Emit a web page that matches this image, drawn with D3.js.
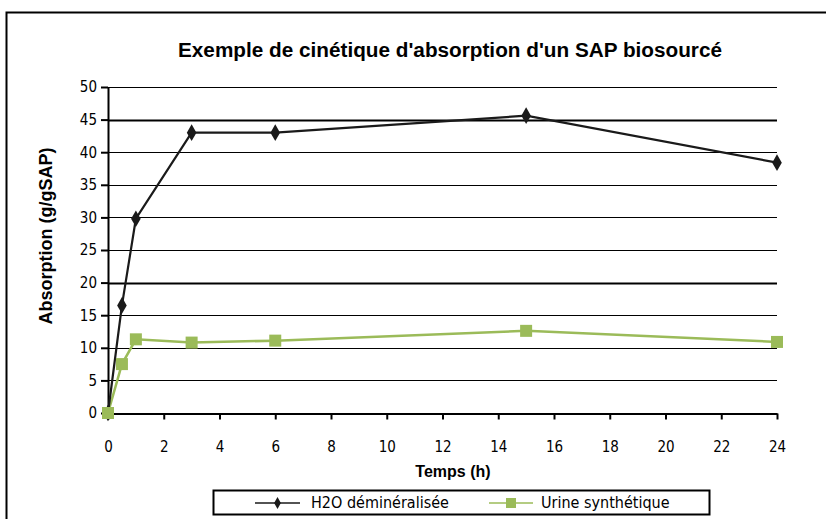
<!DOCTYPE html>
<html>
<head>
<meta charset="utf-8">
<script src="https://cdn.jsdelivr.net/npm/d3@7"></script>
<style>
  body { margin: 0; background: #fff; }
  svg { display: block; font-family: "Liberation Sans", Arial, sans-serif; }
</style>
</head>
<body>
<div id="chart"></div>
<script>
// ----------------------------DATA-------------------------------//
const hours = [0, 0.5, 1, 3, 6, 15, 24];
const eauValues = [0, 16.5, 29.8, 43, 43, 45.6, 38.4];
const urineValues = [0, 7.5, 11.3, 10.8, 11.1, 12.6, 10.9];
const xTicks = [0, 2, 4, 6, 8, 10, 12, 14, 16, 18, 20, 22, 24];
const yTicks = [0, 5, 10, 15, 20, 25, 30, 35, 40, 45, 50];
const seriesNames = ['H2O déminéralisée', 'Urine synthétique'];

const width = 826;
const height = 519;
const green = '#9bbb59';

const svg = d3.select('#chart').append('svg')
  .attr('width', width)
  .attr('height', height);

// outer chart border (cut by the picture on right and bottom)
svg.append('path')
  .attr('d', `M6.5,${height} V12.5 H${width}`)
  .attr('fill', 'none')
  .attr('stroke', '#000')
  .attr('stroke-width', 2);

// ----------------------------SCALES-----------------------------//
const xScale = d3.scaleLinear().domain([0, 24]).range([108, 777]);
const yScale = d3.scaleLinear().domain([0, 50]).range([413, 87]);

// ----------------------------GRID-------------------------------//
svg.append('g')
  .selectAll('line')
  .data(yTicks.filter(d => d > 0))
  .enter()
  .append('line')
  .attr('x1', xScale(0))
  .attr('x2', xScale(24))
  .attr('y1', d => Math.round(yScale(d)) + 0.5)
  .attr('y2', d => Math.round(yScale(d)) + 0.5)
  .attr('stroke', '#000')
  .attr('stroke-width', d => (d === 45 || d === 20) ? 2 : 1);

// -----------------------------AXES------------------------------//
const xaxis = d3.axisBottom(xScale)
  .tickValues(xTicks)
  .tickSize(6)
  .tickPadding(22)
  .tickSizeOuter(0);

const yaxis = d3.axisLeft(yScale)
  .tickValues(yTicks)
  .tickSize(7)
  .tickPadding(4)
  .tickSizeOuter(0);

const gx = svg.append('g')
  .attr('transform', `translate(0,${Math.round(yScale(0)) + 0.5})`)
  .call(xaxis);

const gy = svg.append('g')
  .attr('transform', `translate(${xScale(0)},0)`)
  .call(yaxis);

[gx, gy].forEach(g => {
  g.select('.domain').attr('stroke', '#000').attr('stroke-width', 2);
  g.selectAll('.tick line').attr('stroke', '#000').attr('stroke-width', 2);
  g.selectAll('.tick text')
    .attr('fill', '#000')
    .style('font-size', '15px')
    .style('font-family', '"DejaVu Sans Condensed", "Liberation Sans Narrow", sans-serif')
    .style('font-weight', '200');
});

// ----------------------------TITLES-----------------------------//
svg.append('text')
  .attr('x', 450)
  .attr('y', 57)
  .attr('text-anchor', 'middle')
  .attr('textLength', 544)
  .attr('lengthAdjust', 'spacingAndGlyphs')
  .style('font-size', '20px')
  .style('font-weight', 'bold')
  .text("Exemple de cinétique d'absorption d'un SAP biosourcé");

svg.append('text')
  .attr('x', 453)
  .attr('y', 477)
  .attr('text-anchor', 'middle')
  .style('font-size', '16px')
  .style('font-weight', 'bold')
  .text('Temps (h)');

svg.append('text')
  .attr('transform', 'translate(52,236) rotate(-90)')
  .attr('text-anchor', 'middle')
  .style('font-size', '18px')
  .style('font-weight', 'bold')
  .text('Absorption (g/gSAP)');

// ----------------------------LINES------------------------------//
const eau = hours.map((h, i) => ({ x: h, y: eauValues[i] }));
const urine = hours.map((h, i) => ({ x: h, y: urineValues[i] }));

const line = d3.line()
  .x(d => xScale(d.x))
  .y(d => yScale(d.y));

svg.append('path')
  .attr('d', line(urine))
  .attr('fill', 'none')
  .attr('stroke', green)
  .attr('stroke-width', 2.5);

svg.append('path')
  .attr('d', line(eau))
  .attr('fill', 'none')
  .attr('stroke', '#1a1a1a')
  .attr('stroke-width', 2.2);

const diamond = d3.symbol().type(d3.symbolDiamond).size(80);

svg.append('g')
  .selectAll('path')
  .data(eau)
  .enter()
  .append('path')
  .attr('d', diamond)
  .attr('transform', d => `translate(${xScale(d.x)},${yScale(d.y)})`)
  .attr('fill', '#1a1a1a');

svg.append('g')
  .selectAll('rect')
  .data(urine)
  .enter()
  .append('rect')
  .attr('x', d => xScale(d.x) - 6)
  .attr('y', d => yScale(d.y) - 6)
  .attr('width', 12)
  .attr('height', 12)
  .attr('fill', green);

// ----------------------------LEGEND-----------------------------//
const legend = svg.append('g');

legend.append('rect')
  .attr('x', 213.5)
  .attr('y', 490.5)
  .attr('width', 496)
  .attr('height', 24)
  .attr('fill', '#fff')
  .attr('stroke', '#000')
  .attr('stroke-width', 2);

const legendItems = [
  { name: seriesNames[0], x0: 255, x1: 300, tx: 311, color: '#1a1a1a', mark: 'diamond' },
  { name: seriesNames[1], x0: 489, x1: 533, tx: 541, color: green, mark: 'square' }
];

legendItems.forEach(it => {
  const cy = 503;
  legend.append('line')
    .attr('x1', it.x0).attr('x2', it.x1)
    .attr('y1', cy).attr('y2', cy)
    .attr('stroke', it.color)
    .attr('stroke-width', 1.5);
  const cx = (it.x0 + it.x1) / 2;
  if (it.mark === 'diamond') {
    legend.append('path')
      .attr('d', d3.symbol().type(d3.symbolDiamond).size(40))
      .attr('transform', `translate(${cx},${cy})`)
      .attr('fill', it.color);
  } else {
    legend.append('rect')
      .attr('x', cx - 5).attr('y', cy - 5)
      .attr('width', 10).attr('height', 10)
      .attr('fill', it.color);
  }
  legend.append('text')
    .attr('x', it.tx)
    .attr('y', cy + 5)
    .style('font-size', '16px')
    .style('font-family', '"DejaVu Sans Condensed", "Liberation Sans Narrow", sans-serif')
    .style('font-weight', '200')
    .text(it.name);
});
</script>
</body>
</html>
